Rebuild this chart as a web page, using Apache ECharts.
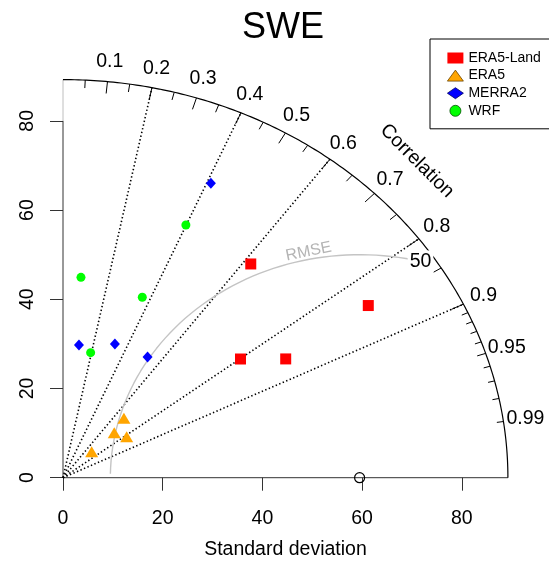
<!DOCTYPE html>
<html>
<head>
<meta charset="utf-8">
<script src="https://cdn.jsdelivr.net/npm/echarts@6/dist/echarts.min.js"></script>
<style>
  html, body { margin: 0; padding: 0; background: #fff; }
  #chart { width: 549px; height: 561px; }
</style>
</head>
<body>
<div id="chart"></div>
<script>
// Taylor diagram: standard deviation + correlation per product
const era5LandSd = [60.95, 72.39, 44.45, 52.01];
const era5LandCor = [0.618, 0.846, 0.801, 0.859];
const era5Sd = [18.08, 14.40, 15.73, 8.19];
const era5Cor = [0.676, 0.714, 0.812, 0.702];
const merra2Sd = [72.36, 29.92, 31.74, 31.94];
const merra2Cor = [0.410, 0.107, 0.328, 0.531];
const wrfSd = [61.79, 45.07, 43.46, 28.57];
const wrfCor = [0.399, 0.080, 0.366, 0.194];

const refSd = 59.5;          // observed standard deviation
const rmseLevels = [50];
const corrLines = [0.2, 0.4, 0.6, 0.8, 0.9];
const corrLabels = [0.1, 0.2, 0.3, 0.4, 0.5, 0.6, 0.7, 0.8, 0.9, 0.95, 0.99];
const sdTicks = [0, 20, 40, 60, 80];

const maxSd = 1.5 * refSd;
const FONT = '"Liberation Sans", Arial, sans-serif';

function toXY(sd, cor) {
  return [sd * cor, sd * Math.sqrt(1 - cor * cor)];
}
function pts(sds, cors) {
  return sds.map((s, i) => toXY(s, cors[i]));
}

// outer arc
const arc = [];
for (let a = 0; a <= 90.001; a += 0.5) {
  const r = a * Math.PI / 180;
  arc.push([Math.cos(r) * maxSd, Math.sin(r) * maxSd]);
}

// correlation tick marks on the arc
const tickSegs = [];
function addTicks(vals, inner) {
  vals.forEach(v => {
    const a = Math.acos(v);
    tickSegs.push([Math.cos(a) * maxSd, Math.sin(a) * maxSd, Math.cos(a) * maxSd * inner, Math.sin(a) * maxSd * inner]);
  });
}
addTicks([0.1, 0.2, 0.3, 0.4, 0.5, 0.6, 0.7, 0.8, 0.9], 0.97);
addTicks([0.05, 0.15, 0.25, 0.35, 0.45, 0.55, 0.65, 0.75, 0.85, 0.95], 0.98);
addTicks([0.91, 0.92, 0.93, 0.94, 0.96, 0.97, 0.98, 0.99], 0.985);

// dotted correlation rays
const raySegs = corrLines.map(c => {
  const a = Math.acos(c);
  return [0, 0, Math.cos(a) * maxSd, Math.sin(a) * maxSd];
});

// RMSE contour around the reference point
const labelT = 1.324;
const rmseCurve = [];
for (let t = labelT; t <= Math.PI; t += 0.03) {
  rmseCurve.push([refSd + Math.cos(t) * rmseLevels[0], Math.sin(t) * rmseLevels[0]]);
}

// text annotations placed in data space
const texts = [];
corrLabels.forEach(c => {
  const a = Math.acos(c);
  texts.push({ pos: [Math.cos(a) * maxSd * 1.05, Math.sin(a) * maxSd * 1.05], text: String(c), size: 19.5, color: '#000', rot: 0 });
});
texts.push({ pos: [Math.cos(Math.PI / 4) * maxSd * 1.125, Math.sin(Math.PI / 4) * maxSd * 1.125], text: 'Correlation', size: 19.5, color: '#000', rot: -Math.PI / 4 });
texts.push({ pos: [refSd + Math.cos(1.77) * (rmseLevels[0] + 1.7), Math.sin(1.77) * (rmseLevels[0] + 1.7)], text: 'RMSE', size: 16, color: '#b4b4b4', rot: 0.2 });
texts.push({ pos: [refSd + Math.cos(labelT) * rmseLevels[0], Math.sin(labelT) * rmseLevels[0]], text: String(rmseLevels[0]), size: 19.5, color: '#000', rot: 0, bg: true });

function segSeries(segs, style, z) {
  return {
    type: 'custom', coordinateSystem: 'cartesian2d', silent: true, clip: false, z: z,
    data: segs,
    encode: { x: [0, 2], y: [1, 3] },
    renderItem: (params, api) => {
      const p1 = api.coord([api.value(0), api.value(1)]);
      const p2 = api.coord([api.value(2), api.value(3)]);
      return { type: 'line', shape: { x1: p1[0], y1: p1[1], x2: p2[0], y2: p2[1] }, style: style };
    }
  };
}

const chart = echarts.init(document.getElementById('chart'));
const option = {
  animation: false,
  title: {
    text: 'SWE', left: 283, top: 10, textAlign: 'center', padding: 0,
    textStyle: { fontSize: 36, fontWeight: 'normal', color: '#000', fontFamily: FONT }
  },
  legend: {
    left: 430, top: 39, orient: 'vertical',
    padding: [12, 30, 11, 17],
    borderColor: '#000', borderWidth: 1,
    itemWidth: 16, itemHeight: 11, itemGap: 3.6,
    textStyle: { fontSize: 14, color: '#000', fontFamily: FONT },
    data: [
      { name: 'ERA5-Land' },
      { name: 'ERA5', itemStyle: { borderColor: '#6b4500', borderWidth: 0.8 } },
      { name: 'MERRA2', itemStyle: { borderColor: '#000060', borderWidth: 0.8 } },
      { name: 'WRF', itemStyle: { borderColor: '#005000', borderWidth: 0.8 } }
    ]
  },
  grid: { left: 63, top: 79.6, width: 444.9, height: 398.1, outerBoundsMode: 'none' },
  xAxis: {
    type: 'value', min: 0, max: maxSd,
    axisLine: { show: false }, splitLine: { show: false },
    axisTick: { show: true, length: 13, customValues: sdTicks, lineStyle: { color: '#333' } },
    axisLabel: { customValues: sdTicks, margin: 31, fontSize: 19.5, color: '#000', fontFamily: FONT },
    name: 'Standard deviation', nameLocation: 'middle', nameGap: 62,
    nameTextStyle: { fontSize: 19.5, color: '#000', fontFamily: FONT }
  },
  yAxis: {
    type: 'value', min: 0, max: maxSd,
    axisLine: { show: false }, splitLine: { show: false },
    axisTick: { show: true, length: 13, customValues: sdTicks, lineStyle: { color: '#333' } },
    axisLabel: { customValues: sdTicks, rotate: 90, margin: 25, fontSize: 19.5, color: '#000', fontFamily: FONT }
  },
  series: [
    // axis lines
    segSeries([[0, 0, maxSd, 0], [0, 0, 0, 80]], { stroke: '#333', lineWidth: 1 }, 2),
    segSeries([[0, 80, 0, maxSd]], { stroke: '#bebebe', lineWidth: 1 }, 2),
    segSeries(raySegs, { stroke: '#000', lineWidth: 1.6, lineDash: [1.4, 2.4] }, 2),
    segSeries(tickSegs, { stroke: '#000', lineWidth: 1 }, 2),
    {
      type: 'line', data: arc, showSymbol: false, silent: true, clip: false, z: 2,
      lineStyle: { color: '#000', width: 1.2 }
    },
    {
      type: 'line', data: rmseCurve, showSymbol: false, silent: true, clip: false, z: 2,
      lineStyle: { color: '#c4c4c4', width: 1.4 }
    },
    {
      type: 'custom', coordinateSystem: 'cartesian2d', silent: true, clip: false, z: 4,
      data: texts.map(t => t.pos),
      encode: { x: 0, y: 1 },
      renderItem: (params, api) => {
        const t = texts[params.dataIndex];
        const p = api.coord([api.value(0), api.value(1)]);
        return {
          type: 'text', x: p[0], y: p[1], rotation: t.rot,
          style: {
            text: t.text, fontSize: t.size, fill: t.color, fontFamily: FONT,
            align: 'center', verticalAlign: 'middle',
            backgroundColor: t.bg ? '#fff' : null, padding: t.bg ? [1, 2] : 0
          }
        };
      }
    },
    {
      type: 'scatter', data: [[refSd, 0]], symbol: 'circle', symbolSize: 10, silent: true, clip: false, z: 5,
      itemStyle: { color: 'rgba(0,0,0,0)', borderColor: '#000', borderWidth: 1.2, opacity: 1 }
    },
    {
      name: 'ERA5-Land', type: 'scatter', data: pts(era5LandSd, era5LandCor), clip: false, z: 6,
      symbol: 'rect', symbolSize: 11, itemStyle: { color: '#ff0000', opacity: 1 }
    },
    {
      name: 'ERA5', type: 'scatter', data: pts(era5Sd, era5Cor), clip: false, z: 6,
      symbol: 'triangle', symbolSize: [13, 11], itemStyle: { color: '#ffa500', opacity: 1 }
    },
    {
      name: 'MERRA2', type: 'scatter', data: pts(merra2Sd, merra2Cor), clip: false, z: 6,
      symbol: 'diamond', symbolSize: [10, 11], itemStyle: { color: '#0000ff', opacity: 1 }
    },
    {
      name: 'WRF', type: 'scatter', data: pts(wrfSd, wrfCor), clip: false, z: 6,
      symbol: 'circle', symbolSize: 9, itemStyle: { color: '#00ff00', opacity: 1 }
    }
  ]
};
chart.setOption(option);
</script>
</body>
</html>
